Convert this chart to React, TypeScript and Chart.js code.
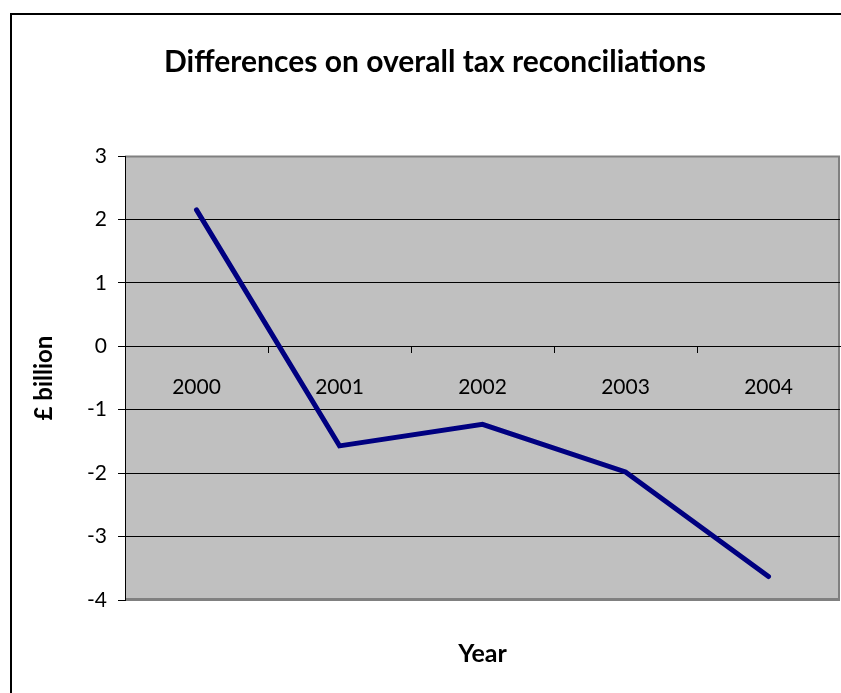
import React, { useEffect, useRef } from "react";
import { Chart, registerables } from "chart.js";

Chart.register(...registerables);

const years = ["2000", "2001", "2002", "2003", "2004"];
const differences = [2.15, -1.57, -1.23, -1.98, -3.63];
const yMin = -4;
const yMax = 3;

const titleText = "Differences on overall tax reconciliations";
const yTitle = "£ billion";
const xTitle = "Year";

const FONT = "Lato, 'DejaVu Sans', sans-serif";

const framePlugin = {
  id: "frame",
  beforeDraw(chart: any) {
    const { ctx, chartArea } = chart;
    const { left, top, right, bottom } = chartArea;
    ctx.save();
    ctx.fillStyle = "#ffffff";
    ctx.fillRect(0, 0, chart.width, chart.height);
    ctx.strokeStyle = "#000000";
    ctx.lineWidth = 2;
    ctx.strokeRect(11, 14, 1000, 1000);
    ctx.fillStyle = "#c0c0c0";
    ctx.fillRect(left, top, right - left, bottom - top);
    ctx.strokeStyle = "#808080";
    ctx.lineWidth = 2;
    ctx.beginPath();
    ctx.moveTo(left, top + 0.5);
    ctx.lineTo(right - 1, top + 0.5);
    ctx.lineTo(right - 1, bottom - 1);
    ctx.lineTo(left, bottom - 1);
    ctx.stroke();
    ctx.restore();
  },
};

export default function App() {
  const ref = useRef<HTMLCanvasElement | null>(null);
  useEffect(() => {
    if (!ref.current) return;
    const chart = new Chart(ref.current, {
      type: "line",
      data: {
        labels: years,
        datasets: [
          {
            data: differences,
            borderColor: "#000080",
            borderWidth: 5,
            borderCapStyle: "round",
            borderJoinStyle: "miter",
            pointRadius: 0,
            tension: 0,
            fill: false,
          },
        ],
      },
      options: {
        animation: false,
        responsive: false,
        maintainAspectRatio: false,
        layout: { padding: { top: 0, left: 30, right: 1, bottom: 0 } },
        plugins: {
          legend: { display: false },
          tooltip: { enabled: false },
          title: {
            display: true,
            text: titleText,
            color: "#000000",
            font: { family: FONT, size: 30, weight: "bold" },
            padding: { top: 44, bottom: 76 },
          },
          subtitle: {
            display: true,
            position: "bottom",
            fullSize: false,
            text: xTitle,
            color: "#000000",
            font: { family: FONT, size: 25, weight: "bold" },
            padding: { top: 39, bottom: 24 },
          },
        },
        scales: {
          x: {
            type: "category",
            position: { y: 0 } as any,
            offset: true,
            afterFit(scale: any) {
              scale.height = 0;
            },
            grid: {
              display: true,
              drawOnChartArea: false,
              offset: true,
              tickLength: 6,
              color: "#000000",
              tickColor: (c: any) => (c.tick ? "#000000" : "rgba(0,0,0,0)"),
              lineWidth: 1,
            },
            border: { display: true, color: "#000000", width: 1 },
            ticks: {
              color: "#000000",
              font: { family: FONT, size: 21 },
              padding: 22,
              maxRotation: 0,
            },
          },
          y: {
            min: yMin,
            max: yMax,
            position: "left",
            afterFit(scale: any) {
              scale.width = 95;
            },
            ticks: {
              stepSize: 1,
              color: "#000000",
              font: { family: FONT, size: 21 },
              padding: 11,
            },
            grid: {
              color: (c: any) =>
                c.tick && (c.tick.value === yMax || c.tick.value === yMin)
                  ? "#808080"
                  : "#000000",
              tickColor: "#000000",
              tickLength: 7,
              lineWidth: 1,
            },
            border: { display: true, color: "#000000", width: 1 },
            title: {
              display: true,
              text: yTitle,
              color: "#000000",
              font: { family: FONT, size: 24, weight: "bold" },
              padding: { top: 0, bottom: 0 },
            },
          },
        },
      },
      plugins: [framePlugin],
    });
    return () => chart.destroy();
  }, []);
  return (
    <div style={{ position: "absolute", left: 0, top: 0, width: 841, height: 693 }}>
      <canvas ref={ref} width={841} height={693} style={{ display: "block" }} />
    </div>
  );
}
